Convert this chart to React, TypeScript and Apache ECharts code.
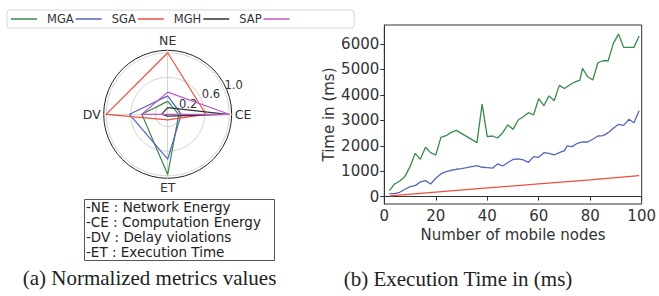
import React, { useEffect, useRef } from 'react';
import * as echarts from 'echarts';

// ---------- Radar (normalized metrics) ----------
const radarAxes = ['NE', 'DV', 'ET', 'CE'];
const radarTicks = [0.2, 0.6, 1.0];
const mgaRadar = [0.21, 0.42, 0.98, 0.18];
const sgaRadar = [0.3, 0.62, 0.73, 0.22];
const mghRadar = [1.0, 1.0, 0.09, 0.62];
const sapRadar = [0.11, 0.1, 0.03, 0.97];
const extraRadar = [0.36, 0.42, 0.0, 1.0];

const legendNames = ['MGA', 'SGA', 'MGH', 'SAP', ' '];
const colors = ['#3a8a48', '#5566bb', '#ee4f42', '#333333', '#c157c9'];

const boxLines = [
  '-NE : Network Energy',
  '-CE : Computation Energy',
  '-DV : Delay violations',
  '-ET : Execution Time',
];
const captionA = '(a) Normalized metrics values';
const captionB = '(b) Execution Time in (ms)';

// ---------- Execution time ----------
const xTicks = [0, 20, 40, 60, 80, 100];
const yTicks = [0, 1000, 2000, 3000, 4000, 5000, 6000];

const mgaX = [2, 4, 6, 8, 10, 12, 14, 16, 18, 20, 22, 24, 26, 28,
  36, 38, 40, 42, 44, 46, 48, 50, 52, 54, 56, 58, 60, 62, 64, 66, 68, 70,
  72, 74, 76, 77, 79, 81, 83, 85, 87, 89, 91, 93, 95, 97, 99];
const mgaY = [236, 499, 617, 786, 1179, 1703, 1468, 1939, 1729, 1637, 2332, 2397, 2528, 2607,
  2122, 3642, 2358, 2385, 2306, 2515, 2820, 2647, 3013, 3143, 3301, 3210, 3858, 3577, 3963, 3772, 4376, 4250,
  4388, 4507, 4585, 5043, 4715, 4585, 5265, 5344, 5344, 6027, 6393, 5870, 5870, 5870, 6314];

const sgaX = [2, 4, 6, 8, 10, 12, 14, 16, 18, 20, 22, 24, 26, 28, 30, 32, 34, 36, 38, 40,
  42, 44, 46, 48, 50, 52, 54, 56, 58, 60, 62, 64, 66, 68, 70,
  71, 73, 75, 77, 79, 81, 83, 85, 87, 89, 91, 93, 95, 97, 99];
const sgaY = [118, 118, 171, 290, 393, 432, 577, 629, 499, 722, 892, 982, 1037, 1076, 1100, 1139, 1179, 1218, 1155, 1139,
  1120, 1285, 1206, 1340, 1460, 1485, 1442, 1350, 1572, 1547, 1729, 1705, 1638, 1729, 1807,
  1992, 1965, 2098, 2149, 2149, 2255, 2385, 2397, 2515, 2687, 2845, 2805, 3041, 2908, 3379];

const mghX = [2, 20, 40, 60, 80, 99];
const mghY = [30, 180, 342, 500, 660, 822];

const FONT = 'DejaVu Sans';

export default function App() {
  const ref = useRef<HTMLDivElement>(null);
  useEffect(() => {
    const chart = echarts.init(ref.current!, null, { renderer: 'svg' });
    const radarSets = [mgaRadar, sgaRadar, mghRadar, sapRadar, extraRadar];
    const zip = (xs: number[], ys: number[]) => xs.map((x, i) => [x, ys[i]]);
    chart.setOption({
      animation: false,
      backgroundColor: '#fff',
      legend: {
        left: 7,
        top: 10,
        orient: 'horizontal',
        padding: [3, 51, 3, 4],
        itemGap: 2,
        itemWidth: 26,
        itemHeight: 1.5,
        icon: 'rect',
        borderColor: '#d6d6d6',
        borderWidth: 1,
        borderRadius: 3,
        textStyle: { fontSize: 11.5, color: '#333', fontFamily: FONT, padding: [0, 0, 0, 5] },
        data: legendNames.map((n, i) => ({ name: n, itemStyle: { color: colors[i] } })),
      },
      radar: {
        center: [167.7, 114.3],
        radius: 64,
        startAngle: 90,
        shape: 'circle',
        splitNumber: 1,
        indicator: radarAxes.map((n) => ({ name: n, min: 0, max: 1.04 })),
        axisName: { color: '#333', fontSize: 12.5, fontFamily: FONT },
        nameGap: 3,
        splitLine: { show: false },
        splitArea: { show: false },
        axisLine: { lineStyle: { color: '#c8c8c8', width: 0.8 } },
        axisTick: { show: false },
        axisLabel: { show: false },
      },
      polar: { center: [167.7, 114.3], radius: 64 },
      angleAxis: {
        type: 'value',
        min: 0,
        max: 360,
        startAngle: 22.5,
        axisLine: { lineStyle: { color: '#222', width: 1 } },
        axisTick: { show: false },
        axisLabel: { show: false },
        splitLine: { show: false },
      },
      radiusAxis: {
        type: 'value',
        min: 0,
        max: 1.04,
        interval: 0.2,
        axisLine: { show: false },
        axisTick: { show: false },
        splitLine: { show: true, lineStyle: { color: ['transparent', '#c8c8c8'], width: 0.8 } },
        axisLabel: {
          formatter: (v: number) => (radarTicks.some((t) => Math.abs(t - v) < 1e-6) ? v.toFixed(1) : ''),
          margin: 0,
          align: 'left',
          verticalAlign: 'bottom',
          fontSize: 11.5,
          color: '#333',
          fontFamily: FONT,
        },
      },
      grid: {
        left: 384.3,
        top: 25,
        right: 16.7,
        bottom: 92,
        show: true,
        borderColor: '#333',
        borderWidth: 1,
        backgroundColor: 'transparent',
      },
      xAxis: {
        type: 'value',
        min: xTicks[0],
        max: xTicks[xTicks.length - 1],
        interval: 20,
        name: 'Number of mobile nodes',
        nameLocation: 'middle',
        nameGap: 22,
        nameTextStyle: { fontSize: 15, color: '#333', fontFamily: FONT },
        axisLine: { lineStyle: { color: '#333' } },
        axisTick: { length: 4, lineStyle: { color: '#333' } },
        axisLabel: { fontSize: 15, color: '#333', margin: 4, fontFamily: FONT },
        splitLine: { show: false },
      },
      yAxis: {
        type: 'value',
        min: -290,
        max: 6750,
        name: 'Time in (ms)',
        nameLocation: 'middle',
        nameGap: 48,
        nameRotate: 90,
        nameTextStyle: { fontSize: 15, color: '#333', fontFamily: FONT },
        axisLine: { show: true, lineStyle: { color: '#333' } },
        axisTick: { show: true, length: 4, customValues: yTicks, lineStyle: { color: '#333' } },
        axisLabel: {
          customValues: yTicks,
          formatter: (v: number) => String(v),
          fontSize: 15,
          color: '#333',
          margin: 5,
          fontFamily: FONT,
        },
        splitLine: { show: false },
      },
      series: [
        {
          type: 'radar',
          symbol: 'none',
          data: radarSets.map((vals, i) => ({
            name: legendNames[i],
            value: vals,
            lineStyle: { color: colors[i], width: 1.2 },
            itemStyle: { color: colors[i] },
          })),
        },
        {
          type: 'line', name: 'MGA', symbol: 'none', data: zip(mgaX, mgaY),
          lineStyle: { color: colors[0], width: 1.3 }, itemStyle: { color: colors[0] },
        },
        {
          type: 'line', name: 'SGA', symbol: 'none', data: zip(sgaX, sgaY),
          lineStyle: { color: colors[1], width: 1.3 }, itemStyle: { color: colors[1] },
        },
        {
          type: 'line', name: 'MGH', symbol: 'none', data: zip(mghX, mghY),
          lineStyle: { color: colors[2], width: 1.3 }, itemStyle: { color: colors[2] },
        },
      ],
      graphic: [
        {
          type: 'rect',
          shape: { x: 84.5, y: 199.5, width: 190, height: 61 },
          style: { fill: '#fff', stroke: '#555', lineWidth: 1 },
        },
        {
          type: 'text',
          x: 86,
          y: 199.5,
          style: { text: boxLines.join('\n'), fontSize: 13.5, fontFamily: FONT, fill: '#222', lineHeight: 15 },
        },
        {
          type: 'text',
          x: 149.5,
          y: 278,
          style: { text: captionA, fontSize: 21, fontFamily: 'Liberation Serif', fill: '#222', align: 'center', verticalAlign: 'middle' },
        },
        {
          type: 'text',
          x: 458,
          y: 279,
          style: { text: captionB, fontSize: 21, fontFamily: 'Liberation Serif', fill: '#222', align: 'center', verticalAlign: 'middle' },
        },
      ],
    });
    return () => chart.dispose();
  }, []);
  return (
    <div
      ref={ref}
      style={{ position: 'fixed', left: 0, top: 0, width: 659, height: 296, background: '#fff' }}
    />
  );
}
